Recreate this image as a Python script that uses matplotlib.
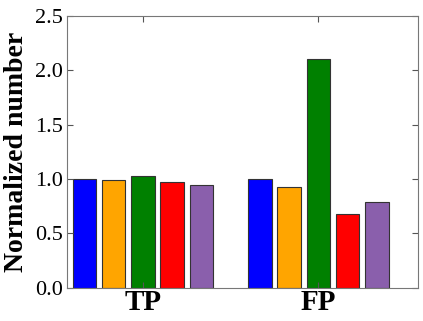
import matplotlib.pyplot as plt
import numpy as np

groups = ['TP', 'FP']
colors = ['#0000ff', '#ffa500', '#008000', '#ff0000', '#8a5fac']
tp_values = [1.00, 0.99, 1.03, 0.975, 0.945]
fp_values = [1.00, 0.925, 2.10, 0.68, 0.79]
values = [tp_values, fp_values]

plt.rcParams['font.family'] = ['Liberation Serif', 'DejaVu Serif']

fig = plt.figure(figsize=(4.23, 3.21), dpi=100)
ax = fig.add_axes([0.158, 0.103, 0.830, 0.848])

n = len(colors)
step = n + 1
for g, vals in enumerate(values):
    x = g * step + np.arange(n) + 0.6
    ax.bar(x, vals, width=0.8, color=colors, edgecolor='#333333', linewidth=0.8)

ax.set_xlim(0, 2 * step)
ax.set_ylim(0, 2.5)
ax.set_yticks(np.arange(0, 2.51, 0.5))
ax.set_yticklabels(['%.1f' % v for v in np.arange(0, 2.51, 0.5)], fontsize=16)
ax.set_xticks([g * step + 2.6 for g in range(len(groups))])
ax.set_xticklabels(groups, fontsize=21, fontweight='bold')
ax.tick_params(direction='in', top=True, right=True, length=4, color='#555555', pad=3)
ax.tick_params(axis='x', pad=1)
ax.set_ylabel('Normalized number', fontsize=20, fontweight='bold', labelpad=4)
for s in ax.spines.values():
    s.set_color('#777777')

fig.savefig('out.png', dpi=100)
